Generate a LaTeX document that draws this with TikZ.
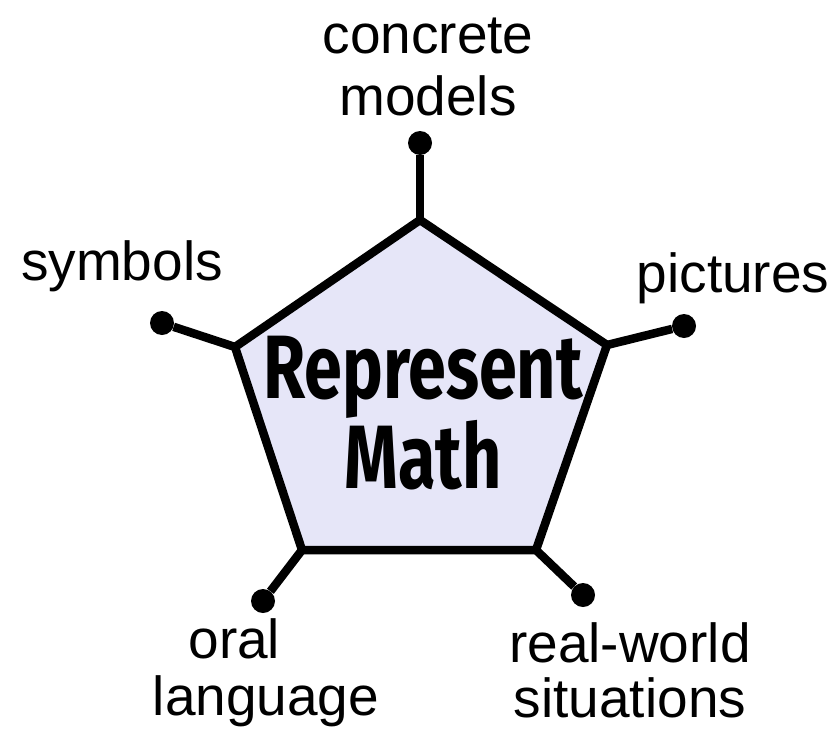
\documentclass[tikz,border=0pt]{standalone}
\usepackage{fontspec}
\setmainfont{Liberation Sans}
\newfontfamily\titlefont[FakeStretch=0.76]{Fira Sans}
\definecolor{pentafill}{RGB}{230,230,248}

\begin{document}
\begin{tikzpicture}[
  x=1pt, y=-1pt,
  edge/.style={line width=8.5pt},
  tipdot/.style={circle, fill=black, inner sep=0pt, minimum size=24pt},
  tiptext/.style={font=\fontsize{55}{#1}\selectfont, align=center, inner sep=0pt, anchor=base},
  titletext/.style={font=\titlefont\bfseries\fontsize{90}{85}\selectfont, align=center, inner sep=0pt, anchor=base},
]
\useasboundingbox (0,0) rectangle (840,736);

% pentagon corners
\coordinate (ctop) at (420,220);
\coordinate (cright) at (607,345);
\coordinate (cbr) at (536,550);
\coordinate (cbl) at (302,550);
\coordinate (cleft) at (235,347);

% end dots
\node[tipdot] (dtop) at (420,143) {};
\node[tipdot] (dright) at (684,326) {};
\node[tipdot] (dbr) at (583,595) {};
\node[tipdot] (dbl) at (263,601) {};
\node[tipdot] (dleft) at (162,323) {};

% pentagon body
\fill[pentafill] (ctop) -- (cright) -- (cbr) -- (cbl) -- (cleft) -- cycle;

% spokes
\draw[edge] (ctop) -- (dtop);
\draw[edge] (cright) -- (dright);
\draw[edge] (cbr) -- (dbr);
\draw[edge] (cbl) -- (dbl);
\draw[edge] (cleft) -- (dleft);

\draw[edge] (ctop) -- (cright) -- (cbr) -- (cbl) -- (cleft) -- cycle;

% centre title (base = last line)
\node[titletext] (title) at (423,488) {Represent\\Math};

% labels (base = last line)
\node[tiptext=62] (models) at (428,115) {concrete\\models};
\node[tiptext=62] (symbols) at (122,280) {symbols};
\node[tiptext=62] (pictures) at (733,292) {pictures};
\node[tiptext=57] (oral) at (266,715) {oral\hspace*{1.15em}\\language};
\node[tiptext=55] (realworld) at (630,717) {real-world\\situations};
\end{tikzpicture}
\end{document}
